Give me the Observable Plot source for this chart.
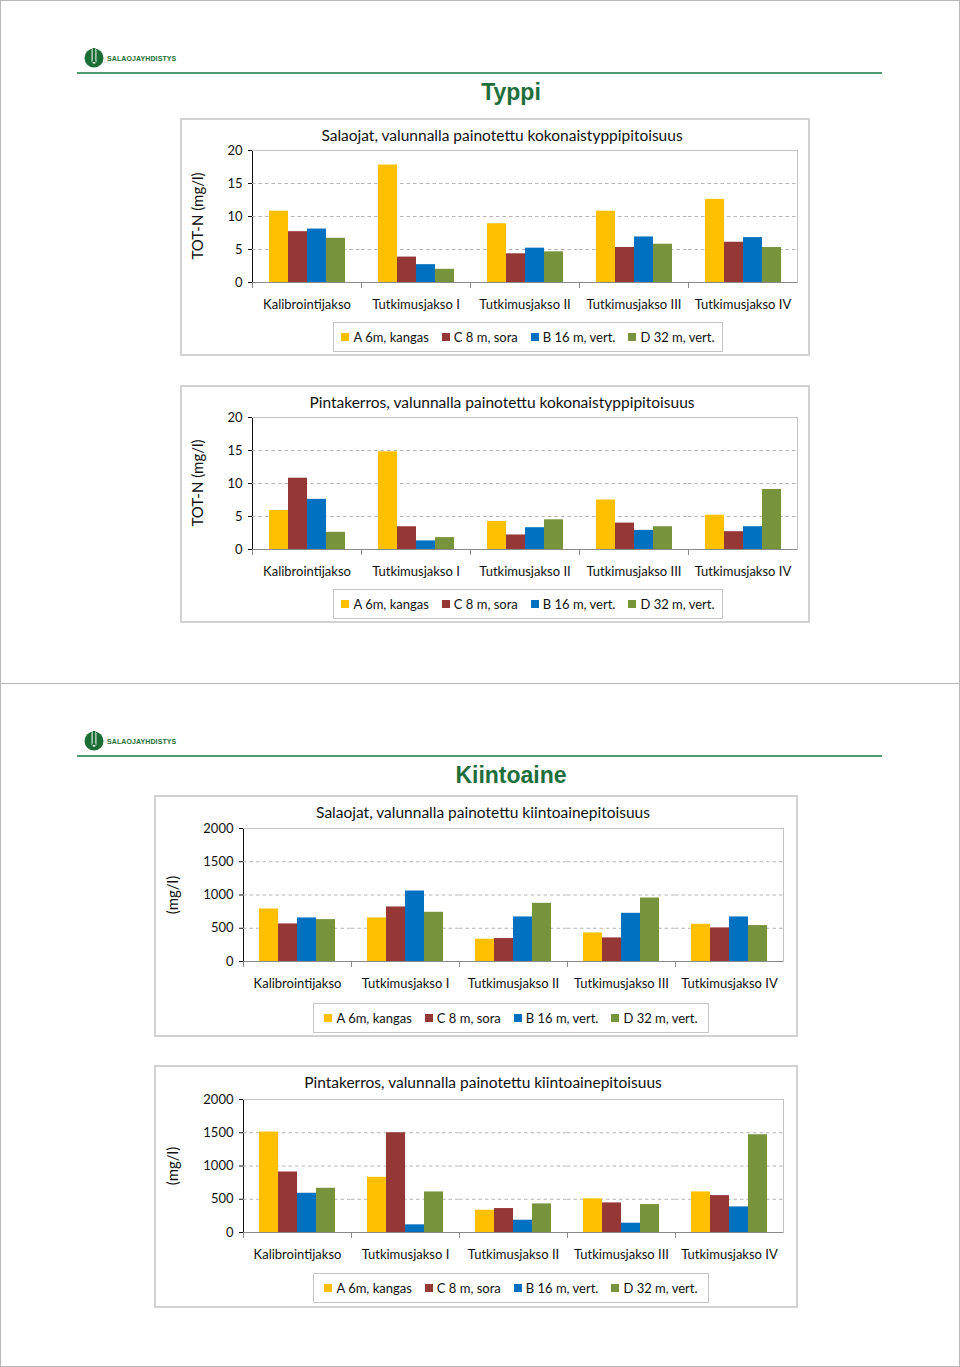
<!DOCTYPE html>
<html><head><meta charset="utf-8">
<script src="https://cdn.jsdelivr.net/npm/d3@7"></script>
<script src="https://cdn.jsdelivr.net/npm/@observablehq/plot@0.6"></script>
<style>
body{margin:0;background:#fff;}
#root{position:relative;width:960px;height:1367px;font-family:Lato,"Open Sans",sans-serif;color:#111;overflow:hidden;}
.page{position:absolute;left:0;width:960px;border:1px solid #b8b8b8;box-sizing:border-box;}
.logo{position:absolute;display:flex;align-items:center;gap:3px;}
.logo span{font-family:Arial,"Liberation Sans",sans-serif;font-weight:bold;font-size:7px;color:#1b6e34;letter-spacing:0.1px;}
.gline{position:absolute;left:77px;width:805px;height:2px;background:#4f9a6e;}
.ptitle{position:absolute;left:0;width:1022px;text-align:center;font-family:Arial,"Liberation Sans",sans-serif;font-weight:bold;font-size:23px;color:#1e6e3c;}
.box{position:absolute;border:2px solid #d2d2d2;box-sizing:border-box;}
.ctitle{position:absolute;white-space:nowrap;font-size:15.5px;transform:translateX(-50%);}
.ylab{position:absolute;white-space:nowrap;font-size:15px;transform:translate(-50%,-50%) rotate(-90deg);}
.legend{position:absolute;border:1px solid #c6c6c6;box-sizing:border-box;display:flex;align-items:center;justify-content:center;gap:13px;font-size:13px;}
.legend .it{display:flex;align-items:center;gap:4px;}
.legend .sw{width:8px;height:8px;display:inline-block;}
.plotwrap{position:absolute;}
</style></head>
<body><div id="root"></div>
<script>
const categories = ["Kalibrointijakso","Tutkimusjakso I","Tutkimusjakso II","Tutkimusjakso III","Tutkimusjakso IV"];
const seriesNames = ["A 6m, kangas","C 8 m, sora","B 16 m, vert.","D 32 m, vert."];
const seriesColors = ["#FFC000","#953735","#0070C0","#77933C"];

// Typpi – Salaojat (TOT-N mg/l)
const salaojatN_A = [10.8, 17.8, 8.9, 10.8, 12.6];
const salaojatN_C = [7.7, 3.85, 4.35, 5.3, 6.1];
const salaojatN_B = [8.1, 2.7, 5.2, 6.9, 6.8];
const salaojatN_D = [6.7, 2.0, 4.65, 5.8, 5.3];
// Typpi – Pintakerros
const pintaN_A = [5.9, 14.8, 4.25, 7.5, 5.2];
const pintaN_C = [10.8, 3.45, 2.2, 4.0, 2.7];
const pintaN_B = [7.6, 1.3, 3.3, 2.9, 3.45];
const pintaN_D = [2.6, 1.8, 4.5, 3.45, 9.1];
// Kiintoaine – Salaojat (mg/l)
const salaojatK_A = [790, 655, 335, 430, 560];
const salaojatK_C = [565, 820, 345, 355, 505];
const salaojatK_B = [655, 1060, 670, 725, 670];
const salaojatK_D = [630, 740, 875, 955, 540];
// Kiintoaine – Pintakerros
const pintaK_A = [1510, 830, 335, 505, 610];
const pintaK_C = [910, 1500, 360, 445, 555];
const pintaK_B = [590, 115, 185, 140, 385];
const pintaK_D = [665, 610, 430, 420, 1470];

const ticksN = [0, 5, 10, 15, 20];
const gridN = [5, 10, 15];
const ticksK = [0, 500, 1000, 1500, 2000];
const gridK = [500, 1000, 1500];

const root = document.getElementById("root");
function el(tag, cls, style, html){const e=document.createElement(tag); if(cls) e.className=cls; Object.assign(e.style, style||{}); if(html!=null) e.innerHTML=html; root.appendChild(e); return e;}

function logo(x, y){
  const d = el("div","logo",{left:x+"px",top:y+"px"});
  d.innerHTML = '<svg width="20" height="20" viewBox="0 0 20 20"><circle cx="10" cy="10" r="9.5" fill="#1b6e34"/><rect x="7.6" y="0" width="4.8" height="16" rx="2.4" fill="#fff"/><rect x="8.6" y="0" width="2.8" height="14" fill="#1b6e34"/><rect x="8.4" y="13" width="3.2" height="3" fill="none" stroke="#1b6e34" stroke-width="0.6"/></svg><span>SALAOJAYHDISTYS</span>';
}

function chart(cfg){
  el("div","box",{left:cfg.bx+"px",top:cfg.by+"px",width:cfg.bw+"px",height:cfg.bh+"px"});
  el("div","ctitle",{left:cfg.tx+"px",top:cfg.ty+"px"}, cfg.title);
  el("div","ylab",{left:cfg.ylx+"px",top:(cfg.plotTop + cfg.ph/2)+"px"}, cfg.ylabel);
  const rows = [];
  categories.forEach((c,i)=>{ seriesNames.forEach((s,j)=>{ rows.push({cat:c, ser:s, v:cfg.values[j][i]}); }); });
  const ymax = cfg.ticks[cfg.ticks.length-1];
  const plotH = cfg.ph;
  const H = plotH + cfg.mt + cfg.mb;
  const p = Plot.plot({
    width: cfg.bw, height: H,
    marginLeft: cfg.ml, marginRight: cfg.mr, marginTop: cfg.mt, marginBottom: cfg.mb,
    style: {fontFamily: "Lato, 'Open Sans', sans-serif", fontSize: "13px", color: "#111", background: "transparent", overflow: "visible"},
    fx: {domain: categories, padding: 0, label: null, tickSize: 0, tickPadding: 17, axis: "bottom"},
    x: {domain: seriesNames, axis: null, paddingInner: 0, paddingOuter: 0.73},
    y: {domain: [0, ymax], ticks: cfg.ticks, tickSize: 4, tickPadding: 6, label: null, line: true, tickFormat: d => String(d)},
    color: {domain: seriesNames, range: seriesColors},
    marks: [
      Plot.ruleY(cfg.grid, {stroke: "#b4b4b4", strokeDasharray: "3.5,3"}),
      Plot.ruleY([ymax], {stroke: "#c4c4c4"}),
      Plot.frame({anchor: "right", stroke: "#c4c4c4", fx: [categories[categories.length-1]]}),
      Plot.barY(rows, {fx: "cat", x: "ser", y: "v", fill: "ser", inset: 0}),
      Plot.ruleY([0], {stroke: "#8a8a8a"}),
      Plot.frame({anchor: "left", stroke: "#8a8a8a", insetTop: plotH, insetBottom: -5})
    ]
  });
  const w = el("div","plotwrap",{left:cfg.bx+"px",top:(cfg.plotTop-cfg.mt)+"px"});
  w.appendChild(p);
  const lg = el("div","legend",{left:cfg.lx+"px",top:cfg.ly+"px",width:cfg.lw+"px",height:"30px"});
  lg.innerHTML = seriesNames.map((s,j)=>`<div class="it"><span class="sw" style="background:${seriesColors[j]}"></span><span>${s}</span></div>`).join("");
}

// Page frames
el("div","page",{top:"0px",height:"684px"});
el("div","page",{top:"683px",height:"684px"});

// Page 1: Typpi
logo(84, 48);
el("div","gline",{top:"72px"});
el("div","ptitle",{top:"79px"},"Typpi");
chart({bx:180, by:118, bw:630, bh:238, tx:502, ty:126, title:"Salaojat, valunnalla painotettu kokonaistyppipitoisuus",
  plotTop:150, ph:132, ml:71, mr:13, mt:8, mb:34, ylx:197, ylabel:"TOT-N (mg/l)", ticks:ticksN, grid:gridN,
  values:[salaojatN_A, salaojatN_C, salaojatN_B, salaojatN_D], lx:333, ly:322, lw:390});
chart({bx:180, by:385, bw:630, bh:238, tx:502, ty:393, title:"Pintakerros, valunnalla painotettu kokonaistyppipitoisuus",
  plotTop:417, ph:132, ml:71, mr:13, mt:8, mb:34, ylx:197, ylabel:"TOT-N (mg/l)", ticks:ticksN, grid:gridN,
  values:[pintaN_A, pintaN_C, pintaN_B, pintaN_D], lx:333, ly:589, lw:390});

// Page 2: Kiintoaine
logo(84, 731);
el("div","gline",{top:"755px"});
el("div","ptitle",{top:"762px"},"Kiintoaine");
chart({bx:154, by:795, bw:644, bh:242, tx:483, ty:803, title:"Salaojat, valunnalla painotettu kiintoainepitoisuus",
  plotTop:828, ph:133, ml:87, mr:14, mt:8, mb:34, ylx:172, ylabel:"(mg/l)", ticks:ticksK, grid:gridK,
  values:[salaojatK_A, salaojatK_C, salaojatK_B, salaojatK_D], lx:313, ly:1003, lw:396});
chart({bx:154, by:1065, bw:644, bh:243, tx:483, ty:1073, title:"Pintakerros, valunnalla painotettu kiintoainepitoisuus",
  plotTop:1099, ph:133, ml:87, mr:14, mt:8, mb:34, ylx:172, ylabel:"(mg/l)", ticks:ticksK, grid:gridK,
  values:[pintaK_A, pintaK_C, pintaK_B, pintaK_D], lx:313, ly:1273, lw:396});
</script>
</body></html>
